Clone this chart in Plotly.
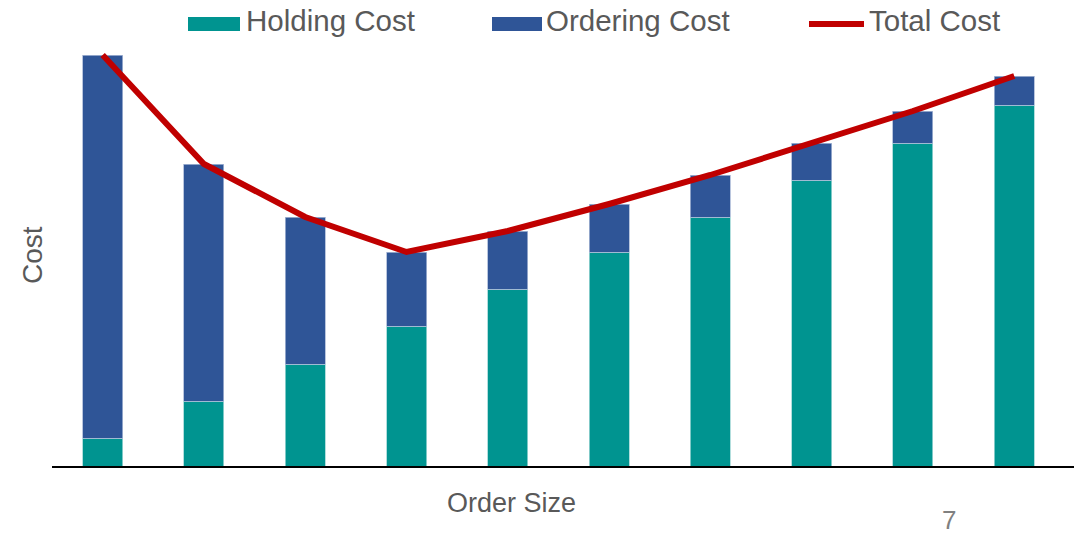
import plotly.graph_objects as go

# Order-size categories and cost components (arbitrary cost units)
order_sizes = ["Q1", "Q2", "Q3", "Q4", "Q5", "Q6", "Q7", "Q8", "Q9", "Q10"]
holding_cost = [28, 65, 102, 140, 177, 214, 249, 286, 323, 361]
ordering_cost = [383, 237, 147, 74, 58, 48, 42, 37, 32, 29]
total_cost = [h + o for h, o in zip(holding_cost, ordering_cost)]

TEAL = "#009490"
BLUE = "#2F5597"
RED = "#C00000"
GREY = "#595959"
FONT = "Liberation Sans, Arial, sans-serif"

W, H = 1076, 535
ML, MR, MT, MB = 52, 2, 40, 69
PW, PH = W - ML - MR, H - MT - MB


def px(x):
    """Horizontal pixel position -> paper fraction."""
    return (x - ML) / PW


def py(y):
    """Vertical pixel position (from top) -> paper fraction."""
    return (H - MB - y) / PH


fig = go.Figure()
fig.add_trace(go.Bar(
    x=order_sizes, y=holding_cost, name="Holding Cost",
    marker=dict(color=TEAL, line=dict(color="#9FD6D4", width=0.8)),
    width=0.395, showlegend=False,
))
fig.add_trace(go.Bar(
    x=order_sizes, y=ordering_cost, name="Ordering Cost",
    marker=dict(color=BLUE, line=dict(color="#A9B8D6", width=0.8)),
    width=0.395, showlegend=False,
))
fig.add_trace(go.Scatter(
    x=order_sizes, y=total_cost, name="Total Cost", mode="lines",
    line=dict(color=RED, width=6), showlegend=False,
))

# Hand-built legend along the top edge
legend_items = [
    ("rect", TEAL, 188, 240, "Holding Cost", 244),
    ("rect", BLUE, 492, 542, "Ordering Cost", 544),
    ("line", RED, 809, 864, "Total Cost", 867),
]
shapes = []
annotations = []
for kind, color, x0, x1, label, tx in legend_items:
    if kind == "rect":
        shapes.append(dict(type="rect", xref="paper", yref="paper",
                           x0=px(x0), x1=px(x1), y0=py(31), y1=py(17),
                           fillcolor=color, line=dict(width=0)))
    else:
        shapes.append(dict(type="line", xref="paper", yref="paper",
                           x0=px(x0), x1=px(x1), y0=py(24), y1=py(24),
                           line=dict(color=color, width=6)))
    annotations.append(dict(xref="paper", yref="paper", x=px(tx), y=py(21),
                            xanchor="left", yanchor="middle", showarrow=False,
                            text=label,
                            font=dict(family=FONT, size=29.5, color=GREY)))

# Axis titles
annotations.append(dict(xref="paper", yref="paper", x=px(511), y=py(503),
                        xanchor="center", yanchor="middle", showarrow=False,
                        text="Order Size",
                        font=dict(family=FONT, size=27, color=GREY)))
annotations.append(dict(xref="paper", yref="paper", x=px(32), y=py(255),
                        xanchor="center", yanchor="middle", showarrow=False,
                        text="Cost", textangle=-90,
                        font=dict(family=FONT, size=28, color=GREY)))

# Page number at lower right
annotations.append(dict(xref="paper", yref="paper", x=px(949), y=py(520),
                        xanchor="center", yanchor="middle", showarrow=False,
                        text="7", font=dict(family=FONT, size=26, color="#808080")))

fig.update_layout(
    width=W, height=H,
    margin=dict(l=ML, r=MR, t=MT, b=MB),
    barmode="stack",
    plot_bgcolor="white", paper_bgcolor="white",
    shapes=shapes, annotations=annotations,
    xaxis=dict(range=[-0.5, 9.59], showticklabels=False, ticks="",
               showgrid=False, zeroline=False,
               showline=True, linecolor="black", linewidth=2),
    yaxis=dict(range=[0, 426], showticklabels=False, ticks="",
               showgrid=False, zeroline=False, showline=False),
)

fig.write_html("out.html")
